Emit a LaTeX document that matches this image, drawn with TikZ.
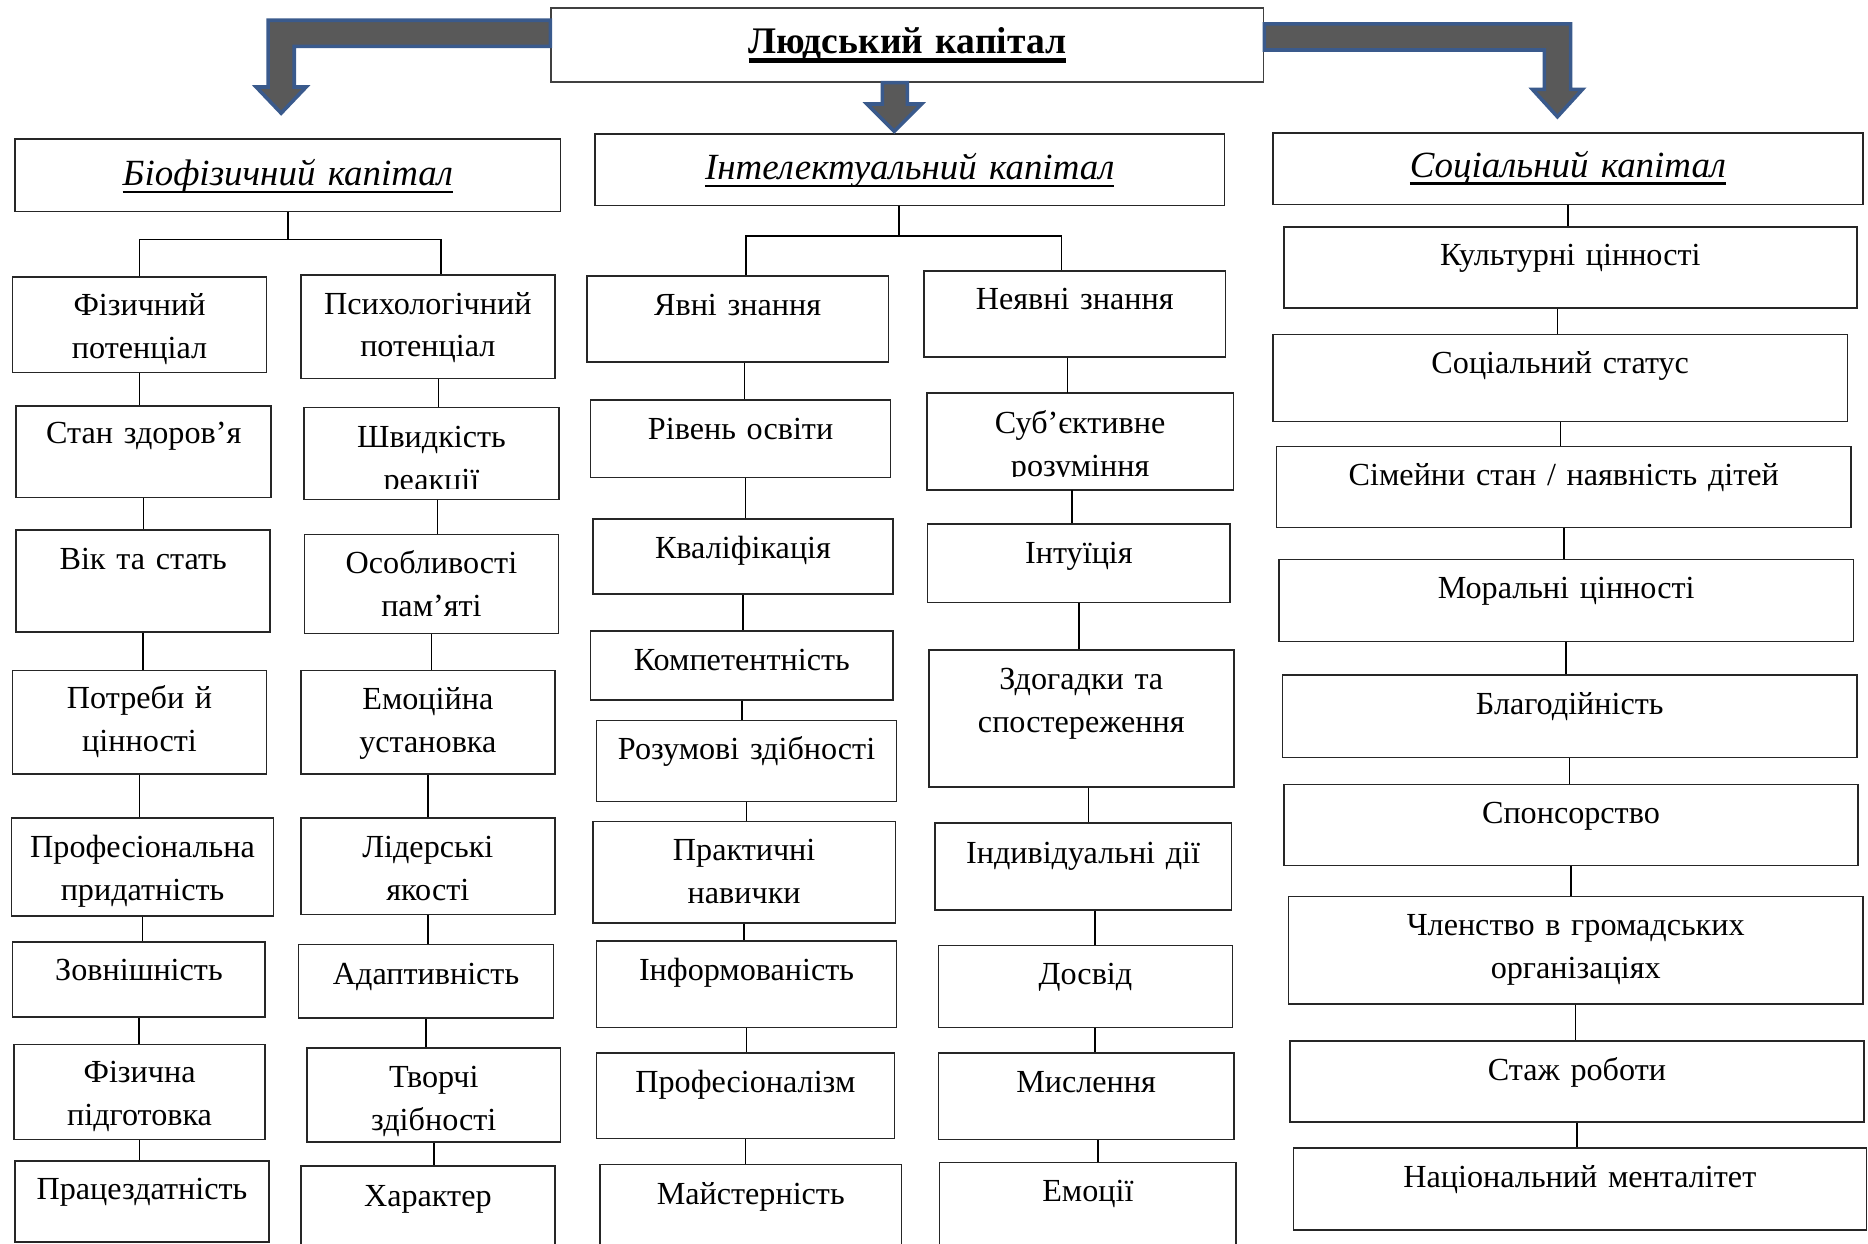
\documentclass[tikz,border=0pt]{standalone}
\usepackage{fontspec}
\setmainfont{Liberation Serif}
\definecolor{grisflecha}{RGB}{89,89,89}
\definecolor{azulflecha}{RGB}{58,90,140}
\newsavebox\ulbox
\newcommand{\undl}[3]{\leavevmode\sbox\ulbox{#3}\rlap{\rule[-#1]{\wd\ulbox}{#2}}\usebox\ulbox}

\begin{document}
\begin{tikzpicture}[
    x=1pt, y=-1pt,
    font=\fontsize{27pt}{36pt}\selectfont,
    cell/.style n args={3}{rectangle, draw=black!85, line width=1.3pt,
      anchor=north west, inner sep=0pt, align=center,
      text width=#1pt, text height=#2pt, text depth=#3pt},
    head/.style n args={3}{cell={#1}{#2}{#3},
      font=\fontsize{31pt}{36pt}\selectfont\itshape},
    rim/.style={draw=black!85, line width=1.3pt},
    link/.style={line width=1.2pt},
    fatarrow/.style={fill=grisflecha, draw=azulflecha, line width=3pt}
  ]
    \useasboundingbox (0,0) rectangle (1568,1044);

    % top level
    \node[cell={598}{38}{24}, draw=black!75, font=\fontsize{31.5pt}{36pt}\selectfont\bfseries]
      (human) at (462,6) {\undl{8pt}{3.6pt}{Людський капітал}};
    \node[head={458}{39}{22}] (bio) at (12,116) {\undl{6.5pt}{2.2pt}{Біофізичний капітал}};
    \node[head={528}{38}{22}] (intel) at (499,112) {\undl{6.5pt}{2.2pt}{Інтелектуальний капітал}};
    \node[head={495}{37}{23}] (soc) at (1068,111) {\undl{6.5pt}{2.2pt}{Соціальний капітал}};

    \draw[fatarrow] (human.west |- 0,17) -- ++(-237,0) -- ++(0,56) -- ++(-10,0)
      -- ++(21,22) -- ++(21,-22) -- ++(-10,0) -- ++(0,-34) -- (human.west |- 0,39) -- cycle;
    \draw[fatarrow] (human.south) ++(-21,0) -- ++(0,18) -- ++(-13,0) -- ++(23,23)
      -- ++(23,-23) -- ++(-12,0) -- ++(0,-18) -- cycle;
    \draw[fatarrow] (human.east |- 0,20) -- ++(257,0) -- ++(0,55) -- ++(10,0)
      -- ++(-21,23) -- ++(-21,-23) -- ++(10,0) -- ++(0,-33) -- (human.east |- 0,42) -- cycle;

    % biofizychnyi
    \node[cell={213}{32}{48}] (a1) at (10,232) {Фізичний\\потенціал};
    \node[cell={214}{32}{45}] (a2) at (13,340) {Стан здоров’я};
    \node[cell={213}{33}{53}] (a3) at (13,444) {Вік та стать};
    \node[cell={213}{32}{55}] (a4) at (10,562) {Потреби й\\цінності};
    \node[cell={220}{33}{49}] (a5) at (9,686) {Професіональна\\придатність};
    \node[cell={212}{32}{31}] (a6) at (10,790) {Зовнішність};
    \node[cell={211}{32}{48}] (a7) at (11,876) {Фізична\\підготовка};
    \node[cell={213}{32}{36}] (a8) at (12,974) {Працездатність};

    \node[cell={213}{33}{54}] (b1) at (252,230) {Психологічний\\потенціал};
    \begin{scope}
      \clip (245,330) rectangle (480,410);
      \node[cell={213}{33}{43}, draw=none] (b2) at (255,342) {Швидкість\\реакції};
    \end{scope}
    \draw[rim] (b2.north west) rectangle (b2.south east);
    \node[cell={213}{33}{50}] (b3) at (255,448) {Особливості\\пам’яті};
    \node[cell={213}{33}{54}] (b4) at (252,562) {Емоційна\\установка};
    \node[cell={213}{33}{48}] (b5) at (252,686) {Лідерські\\якості};
    \node[cell={214}{34}{28}] (b6) at (250,792) {Адаптивність};
    \node[cell={213}{33}{46}] (b7) at (257,879) {Творчі\\здібності};
    \node[cell={213}{34}{36}] (b8) at (252,978) {Характер};

    % intelektualnyi
    \node[cell={253}{33}{39}] (c1) at (492,231) {Явні знання};
    \node[cell={252}{33}{32}] (c2) at (495,335) {Рівень освіти};
    \node[cell={252}{33}{30}] (c3) at (497,435) {Кваліфікація};
    \node[cell={254}{33}{25}] (c4) at (495,529) {Компетентність};
    \node[cell={252}{33}{35}] (c5) at (500,604) {Розумові здібності};
    \node[cell={254}{33}{52}] (c6) at (497,689) {Практичні\\навички};
    \node[cell={252}{33}{40}] (c7) at (500,789) {Інформованість};
    \node[cell={250}{33}{39}] (c8) at (500,883) {Професіоналізм};
    \node[cell={253}{33}{40}] (c9) at (503,977) {Майстерність};

    \node[cell={253}{32}{40}] (d1) at (775,227) {Неявні знання};
    \begin{scope}
      \clip (770,320) rectangle (1045,400);
      \node[cell={256}{33}{47}, draw=none] (d2) at (778,330) {Суб’єктивне\\розуміння};
    \end{scope}
    \draw[rim] (d2.north west) rectangle (d2.south east);
    \node[cell={254}{33}{33}] (d3) at (778,439) {Інтуїція};
    \node[cell={256}{33}{82}] (d4) at (779,545) {Здогадки та\\спостереження};
    \node[cell={249}{34}{39}] (d5) at (784,690) {Індивідуальні дії};
    \node[cell={247}{33}{36}] (d6) at (787,793) {Досвід};
    \node[cell={248}{33}{40}] (d7) at (787,883) {Мислення};
    \node[cell={249}{33}{40}] (d8) at (788,975) {Емоції};

    % sotsialnyi
    \node[cell={481}{32}{36}] (e1) at (1077,190) {Культурні цінності};
    \node[cell={482}{33}{40}] (e2) at (1068,280) {Соціальний статус};
    \node[cell={482}{33}{35}] (e3) at (1071,374) {Сімейни стан / наявність дітей};
    \node[cell={482}{33}{36}] (e4) at (1073,469) {Моральні цінності};
    \node[cell={482}{33}{36}] (e5) at (1076,566) {Благодійність};
    \node[cell={482}{33}{35}] (e6) at (1077,658) {Спонсорство};
    \node[cell={482}{33}{57}] (e7) at (1081,752) {Членство в громадських\\організаціях};
    \node[cell={482}{33}{35}] (e8) at (1082,873) {Стаж роботи};
    \node[cell={481}{33}{36}] (e9) at (1085,963) {Національний менталітет};

    % tree lines
    \draw[link] (bio.south) -- (bio.south |- 0,201);
    \draw[link] (a1.north) |- ([xshift=11pt]b1.north |- 0,201) -- ([xshift=11pt]b1.north);
    \draw[link] ([xshift=-9pt]intel.south) -- ([xshift=-9pt]intel.south |- 0,198);
    \draw[link] ([xshift=7pt]c1.north) |- ([xshift=-11pt]d1.north |- 0,198) -- ([xshift=-11pt]d1.north);
    \draw[link] (soc.south) -- (soc.south |- e1.north);

    \draw[link] (a1.south) -- (a1.south |- a2.north) (a2.south) -- (a2.south |- a3.north)
      (a3.south) -- (a3.south |- a4.north) (a4.south) -- (a4.south |- a5.north)
      (a5.south) -- (a5.south |- a6.north) (a6.south) -- (a6.south |- a7.north)
      (a7.south) -- (a7.south |- a8.north);
    \draw[link] ([xshift=9pt]b1.south) -- ([xshift=9pt]b1.south |- b2.north)
      ([xshift=5pt]b2.south) -- ([xshift=5pt]b2.south |- b3.north)
      (b3.south) -- (b3.south |- b4.north) (b4.south) -- (b4.south |- b5.north)
      (b5.south) -- (b5.south |- b6.north) (b6.south) -- (b6.south |- b7.north)
      (b7.south) -- (b7.south |- b8.north);
    \draw[link] ([xshift=6pt]c1.south) -- ([xshift=6pt]c1.south |- c2.north)
      ([xshift=4pt]c2.south) -- ([xshift=4pt]c2.south |- c3.north)
      (c3.south) -- (c3.south |- c4.north) (c4.south) -- (c4.south |- c5.north)
      (c5.south) -- (c5.south |- c6.north) (c6.south) -- (c6.south |- c7.north)
      (c7.south) -- (c7.south |- c8.north) (c8.south) -- (c8.south |- c9.north);
    \draw[link] ([xshift=-6pt]d1.south) -- ([xshift=-6pt]d1.south |- d2.north)
      ([xshift=-7pt]d2.south) -- ([xshift=-7pt]d2.south |- d3.north)
      (d3.south) -- (d3.south |- d4.north)
      ([xshift=6pt]d4.south) -- ([xshift=6pt]d4.south |- d5.north)
      ([xshift=10pt]d5.south) -- ([xshift=10pt]d5.south |- d6.north)
      ([xshift=8pt]d6.south) -- ([xshift=8pt]d6.south |- d7.north)
      ([xshift=10pt]d7.south) -- ([xshift=10pt]d7.south |- d8.north);
    \draw[link] ([xshift=-11pt]e1.south) -- ([xshift=-11pt]e1.south |- e2.north)
      (e2.south) -- (e2.south |- e3.north)
      (e3.south) -- (e3.south |- e4.north) (e4.south) -- (e4.south |- e5.north)
      (e5.south) -- (e5.south |- e6.north) (e6.south) -- (e6.south |- e7.north)
      (e7.south) -- (e7.south |- e8.north) (e8.south) -- (e8.south |- e9.north);
  \end{tikzpicture}
\end{document}
